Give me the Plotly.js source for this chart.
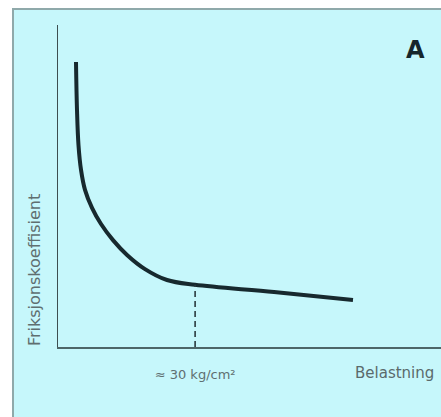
<!DOCTYPE html>
<html>
<head>
<meta charset="utf-8">
<script src="https://cdn.plot.ly/plotly-3.0.1.min.js"></script>
<style>html,body{margin:0;padding:0;background:#fff;}#chart{width:441px;height:417px;}</style>
</head>
<body>
<div id="chart"></div>
<script>
// Curve (relative units, load vs. friction coefficient)
const loadValues = [4.70, 4.96, 5.35, 6.01, 7.05, 8.88, 11.23, 14.36, 18.02, 22.72, 28.46, 35.77, 56.40, 77.02];
const frictionValues = [88.5, 73.6, 62.7, 55.0, 48.8, 43.2, 38.2, 33.2, 28.6, 24.2, 20.8, 19.3, 17.1, 14.6];
const markerLoad = [35.8];
const markerFriction = [19.3];
const tickLabels = ['≈ 30 kg/cm²'];
const xTitle = 'Belastning';
const yTitle = 'Friksjonskoeffisient';
const panelLabel = 'A';

const traces = [
  {
    x: loadValues, y: frictionValues, type: 'scatter', mode: 'lines',
    line: {color: '#17292e', width: 4, shape: 'spline', smoothing: 1},
    hoverinfo: 'skip'
  },
  {
    x: [markerLoad[0], markerLoad[0]], y: [0, markerFriction[0]], type: 'scatter', mode: 'lines',
    line: {color: '#2a3a3e', width: 1.6, dash: '6px,4px'},
    hoverinfo: 'skip'
  }
];

const layout = {
  width: 441, height: 417,
  margin: {l: 58, r: 0, t: 25, b: 70},
  paper_bgcolor: '#ffffff',
  plot_bgcolor: 'rgba(0,0,0,0)',
  showlegend: false,
  font: {family: 'DejaVu Sans', color: '#5f6f70'},
  xaxis: {
    range: [0, 100], showgrid: false, zeroline: false,
    showline: true, linecolor: '#4d6668', linewidth: 2,
    tickvals: markerLoad, ticktext: tickLabels, ticks: '',
    ticklabelstandoff: 14,
    tickfont: {family: 'DejaVu Sans', size: 13, color: '#5f6f70'},
    fixedrange: true
  },
  yaxis: {
    range: [0, 100], showgrid: false, zeroline: false,
    showline: true, linecolor: '#3d4e50', linewidth: 1.5,
    showticklabels: false, ticks: '', fixedrange: true
  },
  shapes: [
    {
      type: 'rect', xref: 'paper', yref: 'paper', layer: 'below',
      x0: -0.1175, x1: 1.05, y0: -0.25, y1: 1.0497,
      fillcolor: '#c6f7fb', line: {color: '#8fa9aa', width: 2}
    }
  ],
  annotations: [
    {
      text: xTitle, xref: 'x', yref: 'paper', x: 98.6, y: 0,
      xanchor: 'right', yanchor: 'top', yshift: -15, showarrow: false,
      font: {family: 'DejaVu Sans', size: 15, color: '#5a6a6b'}
    },
    {
      text: yTitle, xref: 'paper', yref: 'y', x: 0, y: 23.9,
      xanchor: 'center', yanchor: 'middle', xshift: -24, textangle: -90, showarrow: false,
      font: {family: 'DejaVu Sans', size: 16, color: '#5f6f70'}
    },
    {
      text: '<b>' + panelLabel + '</b>', xref: 'paper', yref: 'paper',
      x: (415 - 58) / 383, y: (347 - 50) / 322,
      xanchor: 'center', yanchor: 'middle', showarrow: false,
      font: {family: 'DejaVu Sans', size: 24, color: '#16262b'}
    }
  ]
};

Plotly.newPlot('chart', traces, layout, {displayModeBar: false, staticPlot: true});
</script>
</body>
</html>
